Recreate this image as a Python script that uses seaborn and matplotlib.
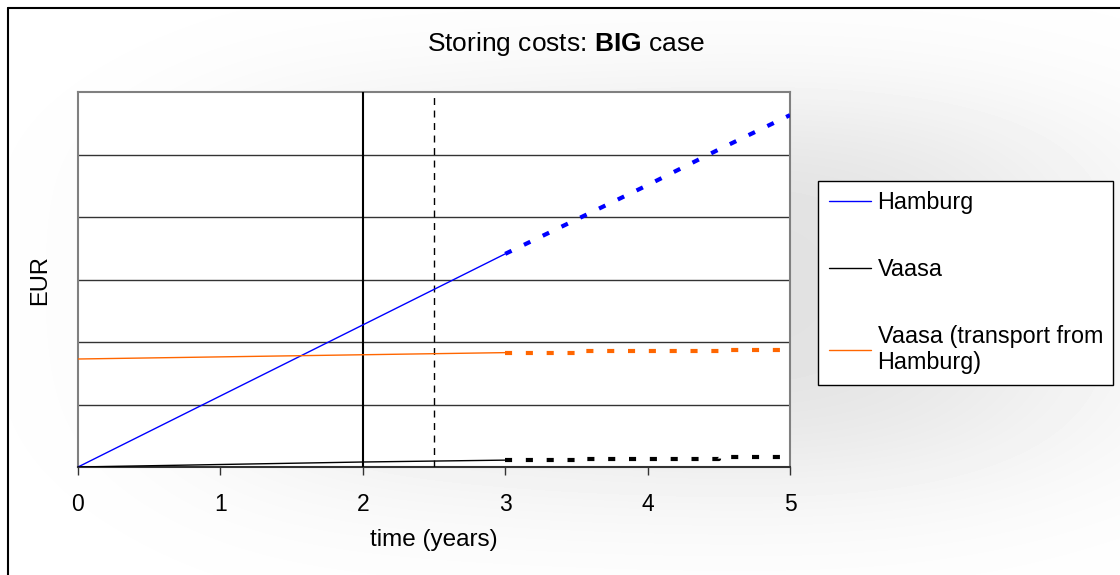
import numpy as np
import matplotlib
matplotlib.use("Agg")
import matplotlib.pyplot as plt
from matplotlib.lines import Line2D
import seaborn as sns

# ---- data ----
time_hist = [0, 1, 2, 3]
hamburg_hist = [0.0, 1.137, 2.273, 3.41]
vaasa_hist = [0.0, 0.04, 0.08, 0.11]
vaasa_tr_hist = [1.728, 1.762, 1.796, 1.83]

time_proj = [3.0, 3.5, 4.0, 4.5, 5.0]
hamburg_proj = [3.41, 3.96, 4.51, 5.08, 5.63]
vaasa_proj = [0.117, 0.133, 0.133, 0.165, 0.165]
vaasa_tr_proj = [1.829, 1.861, 1.861, 1.877, 1.877]

x_ticks = [0, 1, 2, 3, 4, 5]
y_grid = [0, 1, 2, 3, 4, 5, 6]
marker_solid = 2.0
marker_dashed = 2.5

series_names = ["Hamburg", "Vaasa", "Vaasa (transport from\nHamburg)"]
series_colors = ["#0000FF", "#000000", "#FF6600"]

# ---- style ----
sns.set_theme(style="white")
plt.rcParams["font.family"] = ["Liberation Sans", "DejaVu Sans"]
plt.rcParams["mathtext.fontset"] = "custom"
plt.rcParams["mathtext.rm"] = "Liberation Sans"
plt.rcParams["mathtext.bf"] = "Liberation Sans:bold"
plt.rcParams["text.color"] = "black"
plt.rcParams["axes.labelcolor"] = "black"
plt.rcParams["xtick.color"] = "black"

W, H = 1120, 575
fig = plt.figure(figsize=(W / 100, H / 100), dpi=100)
fig.patch.set_facecolor("white")

# soft shadow background
xx, yy = np.meshgrid(np.arange(W), np.arange(H))
sig = lambda t: 1 / (1 + np.exp(-t))
sx = sig((xx - 200) / 80) * sig((1000 - xx) / 110) * (0.35 + 0.65 * xx / W)
sy = sig((yy - 110) / 40) * sig((470 - yy) / 45)
dark = 0.17 * sx * sy
img = 1 - dark
img[:8, :] = 1
img[:, :8] = 1
bg = fig.add_axes([0, 0, 1, 1], zorder=-10)
bg.imshow(img, cmap="gray", vmin=0, vmax=1, aspect="auto", extent=[0, W, H, 0], interpolation="bilinear")
bg.axis("off")

# outer frame (left and top visible)
fig.add_artist(Line2D([8 / W, 8 / W], [0, 1 - 8 / H], transform=fig.transFigure, color="black", lw=1.5))
fig.add_artist(Line2D([8 / W, 1], [1 - 8 / H, 1 - 8 / H], transform=fig.transFigure, color="black", lw=1.5))

ax = fig.add_axes([78 / W, 1 - 467 / H, (790 - 78) / W, (467 - 92) / H])
ax.set_facecolor("white")

# historical (solid thin)
for yv, c in zip([hamburg_hist, vaasa_hist, vaasa_tr_hist], series_colors):
    sns.lineplot(x=time_hist, y=yv, color=c, linewidth=1.0, ax=ax, legend=False, zorder=5)

# projections (thick dotted)
dot = (0, (1.7, 3.3))
sns.lineplot(x=time_proj, y=hamburg_proj, color=series_colors[0], linewidth=3.0,
             linestyle=dot, dash_capstyle="butt", ax=ax, legend=False, zorder=5)
sns.lineplot(x=time_proj, y=vaasa_proj, color=series_colors[1], linewidth=3.0,
             linestyle=dot, dash_capstyle="butt", drawstyle="steps-post", ax=ax, legend=False, zorder=5)
sns.lineplot(x=time_proj, y=vaasa_tr_proj, color=series_colors[2], linewidth=3.0,
             linestyle=dot, dash_capstyle="butt", drawstyle="steps-post", ax=ax, legend=False, zorder=5)

# marker lines
ax.axvline(marker_solid, color="black", lw=1.5, zorder=4)
ax.axvline(marker_dashed, color="black", lw=1.0, linestyle=(0, (5, 4)), zorder=4)

# grid
for g in y_grid[1:-1]:
    ax.axhline(g, color="#333333", lw=1.0, zorder=1)

ax.set_xlim(0, 5)
ax.set_ylim(0, 6)
ax.set_xticks(x_ticks)
ax.set_xticklabels([str(t) for t in x_ticks], fontsize=16.5)
ax.set_yticks([])
ax.tick_params(axis="x", direction="out", length=6, width=1.0, color="#333333", pad=13, bottom=True)
for s in ["left", "top", "right"]:
    ax.spines[s].set_color("#808080")
    ax.spines[s].set_linewidth(1.5)
ax.spines["bottom"].set_color("#333333")
ax.spines["bottom"].set_linewidth(1.5)

ax.set_xlabel("time (years)", fontsize=17.5, labelpad=9)
fig.text(40 / W, 1 - 280 / H, "EUR", rotation=90, fontsize=17, ha="center", va="center")
fig.text(566 / W, 1 - 44 / H, r"Storing costs: $\mathbf{BIG}$ case", fontsize=19, ha="center", va="center")

handles = [Line2D([], [], color=c, lw=1.0) for c in series_colors]
leg = fig.legend(handles, series_names, loc="upper left",
                 bbox_to_anchor=(818 / W, 1 - 181 / H), bbox_transform=fig.transFigure,
                 fontsize=16.8, frameon=True, fancybox=False, shadow=False,
                 labelspacing=1.87, handlelength=1.8, handletextpad=0.3,
                 borderpad=0.45, borderaxespad=0)
leg.get_frame().set_edgecolor("black")
leg.get_frame().set_linewidth(1.0)
leg.get_frame().set_facecolor("white")
leg.get_frame().set_alpha(1)

fig.savefig("out.png", dpi=100)
